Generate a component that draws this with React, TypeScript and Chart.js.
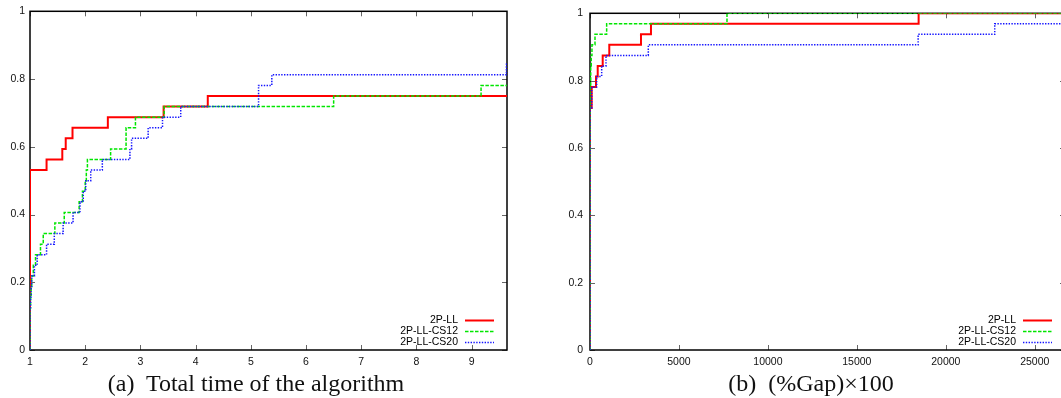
import React, { useEffect, useRef } from "react";
import { Chart, registerables } from "chart.js";

Chart.register(...registerables);

// ---------- shared ----------
const seriesLabels = ["2P-LL", "2P-LL-CS12", "2P-LL-CS20"];
const yTicks = [0, 0.2, 0.4, 0.6, 0.8, 1];

// ---------- (a) Total time of the algorithm ----------
const timeXTicks = [1, 2, 3, 4, 5, 6, 7, 8, 9];
const timeXMin = 1;
const timeXMax = 9.64;

const timeLL_x = [1, 1, 1.3, 1.585, 1.647, 1.77, 2.41, 3.42, 4.22, 9.64];
const timeLL_y = [0, 0.53125, 0.5625, 0.59375, 0.625, 0.65625, 0.6875, 0.71875, 0.75, 0.75];

const timeCS12_x = [1, 1, 1.01, 1.02, 1.03, 1.06, 1.1, 1.19, 1.24, 1.45, 1.62, 1.89, 1.95, 2.0, 2.02, 2.04, 2.46, 2.74, 2.91, 3.43, 6.5, 9.17, 9.64];
const timeCS12_y = [0, 0.125, 0.15625, 0.1875, 0.21875, 0.25, 0.28125, 0.3125, 0.34375, 0.375, 0.40625, 0.4375, 0.46875, 0.5, 0.53125, 0.5625, 0.59375, 0.65625, 0.6875, 0.71875, 0.75, 0.78125, 0.78125];

const timeCS20_x = [1, 1, 1.01, 1.02, 1.03, 1.08, 1.13, 1.3, 1.44, 1.6, 1.78, 1.905, 1.965, 2.01, 2.1, 2.31, 2.81, 2.84, 3.14, 3.4, 3.73, 5.14, 5.38, 9.63, 9.64];
const timeCS20_y = [0, 0.125, 0.15625, 0.1875, 0.21875, 0.25, 0.28125, 0.3125, 0.34375, 0.375, 0.40625, 0.4375, 0.46875, 0.5, 0.53125, 0.5625, 0.59375, 0.625, 0.65625, 0.6875, 0.71875, 0.78125, 0.8125, 0.84375, 0.84375];

// ---------- (b) (%Gap)x100 ----------
const gapXTicks = [0, 5000, 10000, 15000, 20000, 25000];
const gapXMin = 0;
const gapXMax = 26700;

const gapLL_x = [0, 0, 95, 337, 433, 714, 1084, 2865, 3427, 18472, 26700];
const gapLL_y = [0, 0.71875, 0.78125, 0.8125, 0.84375, 0.875, 0.90625, 0.9375, 0.96875, 1, 1];

const gapCS12_x = [0, 0, 40, 70, 110, 281, 936, 7700, 26700];
const gapCS12_y = [0, 0.78125, 0.84375, 0.875, 0.90625, 0.9375, 0.96875, 1, 1];

const gapCS20_x = [0, 0, 95, 376, 657, 899, 3277, 18445, 22750, 26700];
const gapCS20_y = [0, 0.71875, 0.78125, 0.8125, 0.84375, 0.875, 0.90625, 0.9375, 0.96875, 0.96875];

// ---------- styles ----------
const lineStyles = [
  { color: "rgb(255,0,0)", width: 2, dash: [] as number[] },
  { color: "rgb(0,230,0)", width: 1.5, dash: [3.5, 1.5] },
  { color: "rgb(20,20,255)", width: 1.5, dash: [1.4, 1.4] },
];
const TICK_FONT = { family: "'Liberation Sans', Arial, sans-serif", size: 10.5 };

const toPoints = (xs: number[], ys: number[]) => xs.map((x, i) => ({ x, y: ys[i] }));

const framePlugin = {
  id: "gnuframe",
  beforeDatasetsDraw(chart: any) {
    const { ctx, chartArea, scales } = chart;
    const { left, right, top, bottom } = chartArea;
    const xt: number[] = chart.options.plugins.gnuframe.xTicks;
    ctx.save();
    ctx.strokeStyle = "#666";
    ctx.lineWidth = 1;
    ctx.beginPath();
    xt.forEach((v) => {
      const px = Math.round(scales.x.getPixelForValue(v)) + 0.5;
      ctx.moveTo(px, bottom);
      ctx.lineTo(px, bottom - 5);
      ctx.moveTo(px, top);
      ctx.lineTo(px, top + 5);
    });
    yTicks.forEach((v) => {
      const py = Math.round(scales.y.getPixelForValue(v)) + 0.5;
      ctx.moveTo(left, py);
      ctx.lineTo(left + 5, py);
      ctx.moveTo(right, py);
      ctx.lineTo(right - 5, py);
    });
    ctx.stroke();
    ctx.strokeStyle = "#000";
    ctx.lineWidth = 1.5;
    ctx.strokeRect(left, top, right - left, bottom - top);
    ctx.restore();
  },
  afterDatasetsDraw(chart: any) {
    const { ctx, chartArea } = chart;
    const { right, bottom } = chartArea;
    ctx.save();
    ctx.font = `${TICK_FONT.size}px ${TICK_FONT.family}`;
    ctx.fillStyle = "#000";
    ctx.textAlign = "right";
    ctx.textBaseline = "middle";
    seriesLabels.forEach((lab, i) => {
      const y = bottom - 30 + i * 11;
      ctx.fillText(lab, right - 49, y);
      const st = lineStyles[i];
      ctx.strokeStyle = st.color;
      ctx.lineWidth = st.width;
      ctx.setLineDash(st.dash);
      ctx.beginPath();
      ctx.moveTo(right - 42, y + 0.5);
      ctx.lineTo(right - 13, y + 0.5);
      ctx.stroke();
      ctx.setLineDash([]);
    });
    ctx.restore();
  },
};

function makeConfig(
  series: { x: number[]; y: number[] }[],
  xMin: number,
  xMax: number,
  xTicks: number[],
  yAxisWidth: number,
  yPad: number,
  rightPad: number
): any {
  return {
    type: "line",
    data: {
      datasets: series.map((s, i) => ({
        label: seriesLabels[i],
        data: toPoints(s.x, s.y),
        borderColor: lineStyles[i].color,
        borderWidth: lineStyles[i].width,
        borderDash: lineStyles[i].dash,
        stepped: "before",
        pointRadius: 0,
        fill: false,
        tension: 0,
        order: 2 - i,
      })),
    },
    options: {
      responsive: false,
      animation: false,
      events: [],
      layout: { padding: { top: 8, right: rightPad, left: 0, bottom: 0 } },
      plugins: {
        legend: { display: false },
        tooltip: { enabled: false },
        title: { display: false },
        gnuframe: { xTicks },
      },
      scales: {
        x: {
          type: "linear",
          min: xMin,
          max: xMax,
          grid: { display: false, drawTicks: false },
          border: { display: false },
          afterBuildTicks: (s: any) => {
            s.ticks = xTicks.map((v) => ({ value: v }));
          },
          afterFit: (s: any) => {
            s.height = 48;
          },
          ticks: {
            font: TICK_FONT,
            color: "#111",
            padding: 6,
            maxRotation: 0,
            autoSkip: false,
            callback: (v: any) => String(v),
          },
        },
        y: {
          type: "linear",
          min: 0,
          max: 1,
          grid: { display: false, drawTicks: false },
          border: { display: false },
          afterBuildTicks: (s: any) => {
            s.ticks = yTicks.map((v) => ({ value: v }));
          },
          afterFit: (s: any) => {
            s.width = yAxisWidth;
          },
          ticks: {
            font: TICK_FONT,
            color: "#111",
            padding: yPad,
            autoSkip: false,
            callback: (v: any) => String(v),
          },
        },
      },
    },
    plugins: [framePlugin],
  };
}

function ChartCanvas({ config, width, height, left }: { config: any; width: number; height: number; left: number }) {
  const ref = useRef<HTMLCanvasElement | null>(null);
  useEffect(() => {
    if (!ref.current) return;
    const chart = new Chart(ref.current, config);
    return () => chart.destroy();
  }, [config]);
  return (
    <canvas
      ref={ref}
      width={width}
      height={height}
      style={{ position: "absolute", left, top: 0, width, height }}
    />
  );
}

const captionStyle: React.CSSProperties = {
  position: "absolute",
  top: 371,
  fontFamily: "'Liberation Serif', 'Times New Roman', serif",
  fontSize: 24,
  lineHeight: "24px",
  color: "#111",
  whiteSpace: "pre",
  transform: "translateX(-50%)",
};

const timeConfig = makeConfig(
  [
    { x: timeLL_x, y: timeLL_y },
    { x: timeCS12_x, y: timeCS12_y },
    { x: timeCS20_x, y: timeCS20_y },
  ],
  timeXMin,
  timeXMax,
  timeXTicks,
  30,
  5,
  33
);

const gapConfig = makeConfig(
  [
    { x: gapLL_x, y: gapLL_y },
    { x: gapCS12_x, y: gapCS12_y },
    { x: gapCS20_x, y: gapCS20_y },
  ],
  gapXMin,
  gapXMax,
  gapXTicks,
  50,
  7,
  5
);

export default function App() {
  return (
    <div
      style={{
        position: "absolute",
        left: 0,
        top: 0,
        width: 1061,
        height: 398,
        overflow: "hidden",
        background: "#fff",
      }}
    >
      <ChartCanvas config={timeConfig} width={540} height={398} left={0} />
      <ChartCanvas config={gapConfig} width={530} height={398} left={540} />
      <div style={{ ...captionStyle, left: 256 }}>{"(a)  Total time of the algorithm"}</div>
      <div style={{ ...captionStyle, left: 811 }}>{"(b)  (%Gap)×100"}</div>
    </div>
  );
}
